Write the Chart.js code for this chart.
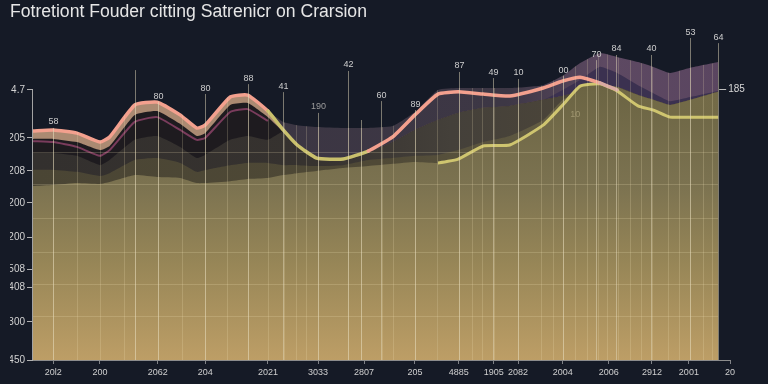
<!DOCTYPE html>
<html>
<head>
<meta charset="utf-8">
<script src="https://cdn.jsdelivr.net/npm/chart.js@4.4.1/dist/chart.umd.min.js"></script>
<style>
  html, body { margin: 0; padding: 0; background: #151a26; }
  #wrap { width: 768px; height: 384px; }
</style>
</head>
<body>
<div id="wrap"><canvas id="chart" width="768" height="384"></canvas></div>
<script>
const titleText = 'Fotretiont Fouder citting Satrenicr on Crarsion';

// shared x positions of every series
const xs = [0, 2.9, 6.3, 9.6, 11, 14.6, 17.8, 21.1, 23.5, 24.7, 28.3, 30.8, 33.7, 35.9, 37.9, 40.7, 44.5, 48.1, 51.6, 54.8, 58.1, 61, 64.6, 68.4, 73.2, 76, 78.5, 81.3, 83.8, 86.8, 89, 91.4, 94.3, 98.3];

// lines
const pinkLine = [71.6, 71.9, 70.9, 68.1, 69.7, 79.7, 80.6, 76.6, 72.5, 73.4, 82.2, 82.8, 77.8, 71.9, 67.2, 63.1, 62.8, 65.3, 69.7, 76.6, 83.1, 83.8, 83.1, 82.5, 85, 87.2, 88.4, 86.6, 84.4, null, null, null, null, null];
const mauveLine = [68.4, 68.1, 66.6, 63.8, 65.6, 74.4, 75.9, 71.9, 68.8, 69.4, 77.5, 78.4, 74.7, null, null, null, null, null, null, null, null, null, null, null, null, null, null, null, null, null, null, null, null, null];
const goldLine = [54.4, 54.7, 55.3, 55, 55.6, 57.8, 57.2, 56.9, 55.3, 55.3, 55.9, 56.6, 56.9, 57.8, 58.4, 59.1, 60, 60.6, 61.3, 61.9, 61.6, 62.8, 66.9, 67.2, 73.4, 79.7, 85.6, 86.3, 84.1, 79.4, 78.1, 75.9, 75.9, 75.9];

// filled bands (top edges), back to front
const topBand = [71.6, 71.9, 70.9, 68.1, 69.7, 79.7, 80.6, 76.6, 72.5, 73.4, 82.2, 82.8, 77.8, 74.4, 73.4, 72.8, 72.5, 72.5, 73.1, 77.5, 84.4, 85, 85, 85, 85.9, 88.8, 92.8, 95.9, 94.7, 93.1, 91.6, 89.7, 91.3, 93.1];
const purpleBand = [64.7, 64.7, 63.8, 60.9, 62.5, 68.8, 70, 66.6, 63.1, 64.1, 68.8, 70, 68.8, 71.3, 66.6, 62.5, 62.2, 64.7, 68.1, 71.9, 75, 77.2, 78.8, 79.4, 81.3, 84.4, 87.5, 91.6, 89.7, 85.9, 83.4, 80.9, 82.2, 84.1];
const tanBand = [71.6, 71.9, 70.9, 68.1, 69.7, 79.7, 80.6, 76.6, 72.5, 73.4, 82.2, 82.8, 77.8, 71.3, 66.6, 62.5, 62.2, 64.7, 68.1, 71.9, 75, 77.2, 78.8, 79.4, 81.3, 82.5, 83.8, 84.4, 85.3, 82.8, 81.3, 79.7, 81.3, 83.8];
const blackBand = [69.1, 69.1, 68.1, 65.6, 66.9, 76.6, 77.8, 73.8, 70, 70.9, 79.7, 80.3, 75.9, 71.3, 66.6, 62.5, 62.2, 64.7, 68.1, 71.9, 75, 77.2, 78.8, 79.4, 81.3, 82.5, 83.8, 84.4, 85.3, 82.8, 81.3, 79.7, 81.3, 83.8];
const greyBand = [64.7, 64.7, 63.8, 60.9, 62.5, 68.8, 70, 66.6, 63.1, 64.1, 68.8, 70, 68.8, 71.3, 66.6, 62.5, 62.2, 64.7, 68.1, 71.9, 75, 77.2, 78.8, 79.4, 81.3, 82.5, 83.8, 84.4, 85.3, 82.8, 81.3, 79.7, 81.3, 83.8];
const oliveBand = [59.4, 59.4, 58.8, 57.5, 58.4, 62.5, 63.1, 61.6, 58.8, 59.4, 60.9, 61.6, 61.6, 60.9, 60.9, 60.6, 60.9, 62.5, 63.1, 63.8, 64.1, 65.6, 68.1, 70, 75, 81.3, 84.4, 86.3, 85.3, 82.8, 81.3, 79.7, 81.3, 83.8];

// axes
const xTickPos = [2.9, 9.6, 17.9, 24.7, 33.7, 40.9, 47.5, 54.8, 61.1, 66.1, 69.6, 76, 82.6, 88.8, 94.1, 100];
const xTickLabels = ['20l2', '200', '2062', '204', '2021', '3033', '2807', '205', '4885', '1905', '2082', '2004', '2006', '2912', '2001', '20'];
const yTickPos = [0, 11.9, 22.8, 28.4, 38.4, 49.1, 59.1, 69.4, 84.4];
const yTickLabels = ['450', '300', '408', '508', '200', '200', '208', '205', '4.7'];

// faint grid seen through the fills
const gridX = [2.9, 6.3, 9.6, 13.1, 14.6, 17.9, 21.4, 24.7, 27.8, 30.8, 33.7, 36, 37.7, 39.2, 40.9, 45.2, 47.1, 50.1, 51.6, 54.8, 58, 61.1, 63, 64.4, 66.1, 69.6, 72.9, 74.6, 76, 77.8, 79.5, 81.1, 82.4, 83.9, 85.7, 87.2, 88.8, 91.1, 92.7, 94.3, 96.1, 97.4];
const gridY = [13.8, 23.8, 33.8, 44.4, 55, 65];

// value callouts with drop lines
const annX = [2.9, 17.9, 24.7, 30.8, 14.6, 35.9, 40.9, 45.2, 47.1, 49.9, 54.8, 61.1, 66, 69.6, 76, 80.8, 83.6, 88.7, 94.3, 98.3];
const annY = [74.4, 82.5, 85, 88.1, 90.6, 85.6, 79.1, 92.2, 75, 82.8, 80, 91.9, 90, 89.7, 90.6, 95.6, 97.2, 97.2, 102.5, 100.9];
const annLabels = ['58', '80', '80', '88', '', '41', '190', '42', '', '60', '89', '87', '49', '10', '00', '70', '84', '40', '53', '64'];
const fadedX = [77.8];
const fadedY = [76.6];
const fadedLabels = ['10'];
const endLabel = '185';
const endValue = 84.7;

Chart.defaults.font.family = '"Liberation Sans", Arial, sans-serif';

function pts(arr) {
  return xs.map((x, i) => ({ x: x, y: arr[i] }));
}

function hGrad(stops) {
  return function (context) {
    const chart = context.chart;
    const area = chart.chartArea;
    if (!area) return stops[0][1];
    const g = chart.ctx.createLinearGradient(area.left, 0, area.right, 0);
    stops.forEach(s => g.addColorStop(s[0], s[1]));
    return g;
  };
}

function vGrad(stops) {
  return function (context) {
    const chart = context.chart;
    const area = chart.chartArea;
    if (!area) return stops[0][1];
    const g = chart.ctx.createLinearGradient(0, area.top, 0, area.bottom);
    stops.forEach(s => g.addColorStop(s[0], s[1]));
    return g;
  };
}

function band(data, color, order) {
  return {
    data: pts(data),
    fill: 'start',
    backgroundColor: color,
    borderWidth: 0,
    pointRadius: 0,
    tension: 0.15,
    order: order
  };
}

const overlay = {
  id: 'overlay',
  afterDatasetsDraw(chart) {
    const { ctx, chartArea: a, scales: { x, y } } = chart;
    ctx.save();

    // grid only where something is painted
    ctx.globalCompositeOperation = 'source-atop';
    ctx.lineWidth = 1;
    ctx.strokeStyle = 'rgba(245, 232, 185, 0.2)';
    gridX.forEach(v => {
      const px = Math.round(x.getPixelForValue(v)) + 0.5;
      ctx.beginPath();
      ctx.moveTo(px, a.top);
      ctx.lineTo(px, a.bottom);
      ctx.stroke();
    });
    gridY.forEach(v => {
      const py = Math.round(y.getPixelForValue(v)) + 0.5;
      ctx.beginPath();
      ctx.moveTo(a.left, py);
      ctx.lineTo(x.getPixelForValue(98.3), py);
      ctx.stroke();
    });
    ctx.globalCompositeOperation = 'source-over';

    // drop lines and their labels
    ctx.font = '9px "Liberation Sans", Arial, sans-serif';
    ctx.textAlign = 'center';
    ctx.textBaseline = 'middle';
    annX.forEach((v, i) => {
      const px = Math.round(x.getPixelForValue(v)) + 0.5;
      const py = y.getPixelForValue(annY[i]);
      ctx.strokeStyle = 'rgba(225, 215, 185, 0.5)';
      ctx.beginPath();
      ctx.moveTo(px, py + (annLabels[i] ? 6 : 0));
      ctx.lineTo(px, a.bottom);
      ctx.stroke();
      if (annLabels[i]) {
        ctx.fillStyle = annLabels[i] === '190' ? '#9c9c9c' : '#cdcdcd';
        ctx.fillText(annLabels[i], px, py);
      }
    });
    ctx.fillStyle = 'rgba(215, 205, 160, 0.45)';
    fadedX.forEach((v, i) => {
      ctx.fillText(fadedLabels[i], x.getPixelForValue(v), y.getPixelForValue(fadedY[i]));
    });

    // end label on the right
    const ex = x.getPixelForValue(xs[xs.length - 1]);
    const ey = Math.round(y.getPixelForValue(endValue)) + 0.5;
    ctx.strokeStyle = '#bdbdbd';
    ctx.beginPath();
    ctx.moveTo(ex + 1, ey);
    ctx.lineTo(ex + 8, ey);
    ctx.stroke();
    ctx.font = '10px "Liberation Sans", Arial, sans-serif';
    ctx.textAlign = 'left';
    ctx.fillStyle = '#d8d8d8';
    ctx.fillText(endLabel, ex + 10, ey);

    // left axis line starts at the top tick
    const ax = a.left - 0.5;
    ctx.strokeStyle = '#a3a3a3';
    ctx.beginPath();
    ctx.moveTo(ax, y.getPixelForValue(yTickPos[yTickPos.length - 1]));
    ctx.lineTo(ax, a.bottom);
    ctx.stroke();
    ctx.restore();
  }
};

new Chart(document.getElementById('chart'), {
  type: 'line',
  data: {
    datasets: [
      {
        data: pts(pinkLine),
        fill: false,
        borderWidth: 3.5,
        borderCapStyle: 'round',
        borderJoinStyle: 'round',
        pointRadius: 0,
        tension: 0.15,
        order: 1,
        segment: {
          borderColor: ctx => {
            const a = ctx.p0.parsed.x, b = ctx.p1.parsed.x;
            if (a >= 33.7 && b <= 48.1) return '#c9c06c';
            if (a >= 81) return '#d9aaa2';
            return '#f3a08e';
          }
        }
      },
      {
        data: pts(mauveLine),
        fill: false,
        borderColor: '#7a3c5c',
        borderWidth: 2,
        pointRadius: 0,
        tension: 0.15,
        order: 2
      },
      {
        data: pts(goldLine),
        fill: 'start',
        backgroundColor: vGrad([[0, '#5f5a3e'], [0.14, '#6b6443'], [0.45, '#7b7250'], [0.7, '#978657'], [1, '#bd9e66']]),
        borderWidth: 3,
        borderJoinStyle: 'round',
        pointRadius: 0,
        tension: 0.15,
        order: 3,
        segment: {
          borderColor: ctx => ctx.p0.parsed.x >= 58 ? '#cfc56f' : 'transparent'
        }
      },
      band(oliveBand, hGrad([[0, '#4a4534'], [0.5, '#4f4936'], [0.68, '#5c5640'], [0.85, '#716946'], [1, '#746b48']]), 4),
      band(greyBand, hGrad([[0, '#33302e'], [0.4, '#36322f'], [0.6, '#44403a'], [0.75, '#4a4439'], [1, '#4a4439']]), 5),
      band(blackBand, '#1e1b1f', 6),
      band(tanBand, '#ab8a72', 7),
      band(purpleBand, '#3b3150', 8),
      band(topBand, hGrad([[0, '#3a3541'], [0.68, '#3d3745'], [0.82, '#5d4962'], [1, '#5a4560']]), 9)
    ]
  },
  options: {
    responsive: false,
    animation: false,
    layout: { padding: { left: 10, right: 38, top: 0, bottom: 0 } },
    plugins: {
      legend: { display: false },
      tooltip: { enabled: false },
      title: {
        display: true,
        text: titleText,
        align: 'start',
        color: '#e6e6e6',
        font: { size: 17.6, weight: 'normal' },
        padding: { top: 2, bottom: 16.9 }
      }
    },
    scales: {
      x: {
        type: 'linear',
        min: 0,
        max: 100,
        afterBuildTicks: s => { s.ticks = xTickPos.map(v => ({ value: v })); },
        afterFit: s => { s.height = 24; },
        grid: { drawOnChartArea: false, tickLength: 4, color: 'rgba(200, 200, 200, 0.6)' },
        border: { color: '#8c8c8c' },
        ticks: {
          autoSkip: false,
          maxRotation: 0,
          padding: 3,
          color: '#cfcfcf',
          font: { size: 9 },
          callback: (v, i) => xTickLabels[i]
        }
      },
      y: {
        min: 0,
        max: 100,
        afterBuildTicks: s => { s.ticks = yTickPos.map(v => ({ value: v })); },
        afterFit: s => { s.width = 23; },
        grid: { drawOnChartArea: false, tickLength: 6, color: '#b0b0b0' },
        border: { display: false },
        ticks: {
          padding: 2,
          color: '#d2d2d2',
          font: { size: 10 },
          callback: (v, i) => yTickLabels[i]
        }
      }
    }
  },
  plugins: [overlay]
});
</script>
</body>
</html>
